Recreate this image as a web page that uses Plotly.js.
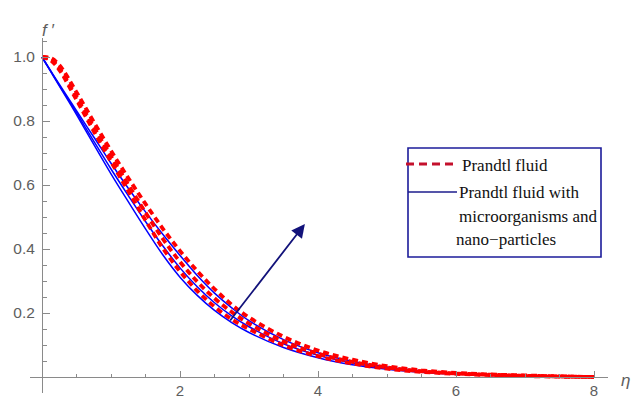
<!DOCTYPE html>
<html>
<head>
<meta charset="utf-8">
<script src="https://cdn.plot.ly/plotly-3.0.1.min.js"></script>
<style>
  html, body { margin: 0; padding: 0; background: #fff; }
  #chart { width: 636px; height: 400px; }
</style>
</head>
<body>
<div id="chart"></div>
<script>
// Similarity variable eta and velocity profiles f'(eta)
const eta = [0, 0.125, 0.25, 0.5, 0.75, 1, 1.25, 1.5, 1.75, 2, 2.25, 2.5, 2.75, 3, 3.5, 4, 4.5, 5, 5.5, 6, 6.5, 7, 7.5, 8];

// Prandtl fluid (dashed)
const prandtl1 = [1, 0.997, 0.975, 0.89, 0.797, 0.707, 0.622, 0.541, 0.464, 0.394, 0.331, 0.275, 0.226, 0.186, 0.126, 0.083, 0.054, 0.034, 0.021, 0.013, 0.008, 0.005, 0.002, 0];
const prandtl2 = [1, 0.993, 0.965, 0.875, 0.781, 0.69, 0.601, 0.514, 0.432, 0.36, 0.298, 0.246, 0.203, 0.167, 0.111, 0.073, 0.047, 0.03, 0.018, 0.011, 0.007, 0.004, 0.002, 0];
const prandtl3 = [1, 0.99, 0.96, 0.866, 0.768, 0.673, 0.581, 0.49, 0.403, 0.33, 0.269, 0.22, 0.18, 0.15, 0.099, 0.065, 0.042, 0.026, 0.016, 0.01, 0.006, 0.003, 0.001, 0];

// Prandtl fluid with microorganisms and nano-particles (solid)
const nano1 = [1, 0.957, 0.915, 0.832, 0.75, 0.668, 0.59, 0.516, 0.446, 0.38, 0.317, 0.262, 0.216, 0.176, 0.117, 0.076, 0.049, 0.031, 0.019, 0.011, 0.007, 0.004, 0.002, 0];
const nano2 = [1, 0.956, 0.912, 0.826, 0.737, 0.65, 0.567, 0.486, 0.41, 0.341, 0.282, 0.232, 0.191, 0.157, 0.104, 0.068, 0.044, 0.028, 0.017, 0.01, 0.006, 0.003, 0.001, 0];
const nano3 = [1, 0.955, 0.91, 0.82, 0.727, 0.635, 0.548, 0.463, 0.382, 0.312, 0.255, 0.208, 0.17, 0.139, 0.092, 0.06, 0.038, 0.024, 0.015, 0.009, 0.005, 0.003, 0.001, 0];

const xTicks = [2, 4, 6, 8];
const xTickText = ['2', '4', '6', '8'];
const yTicks = [0.2, 0.4, 0.6, 0.8, 1.0];
const yTickText = ['0.2', '0.4', '0.6', '0.8', '1.0'];

const legendLabels = ['Prandtl fluid', 'Prandtl fluid with', 'microorganisms and', 'nano\u2212particles'];

// plot-area geometry (pixels)
const W = 636, H = 400;
const M = { l: 30, r: 28, t: 38, b: 7 };
const plotW = W - M.l - M.r, plotH = H - M.t - M.b;
const xRange = [-12 / 69, -12 / 69 + plotW / 69];
const yRange = [-0.05, -0.05 + plotH / 320];
const px = v => (v - M.l) / plotW;
const py = v => (H - M.b - v) / plotH;

function minorVals(lo, hi, step, majors) {
  const out = [];
  for (let k = Math.round(lo / step); k * step <= hi + 1e-9; k++) {
    const v = +(k * step).toFixed(4);
    if (!majors.some(m => Math.abs(m - v) < 1e-6) && Math.abs(v) > 1e-6) out.push(v);
  }
  return out;
}

const solid = (y) => ({
  x: eta, y: y, type: 'scatter', mode: 'lines',
  line: { color: '#0000ff', width: 1.5, shape: 'spline', smoothing: 1 },
  hoverinfo: 'skip', showlegend: false
});
const dashed = (y) => ({
  x: eta, y: y, type: 'scatter', mode: 'lines',
  line: { color: '#ff0000', width: 3.8, dash: '6px,4px', shape: 'spline', smoothing: 1 },
  hoverinfo: 'skip', showlegend: false
});

const traces = [solid(nano3), solid(nano2), solid(nano1), dashed(prandtl3), dashed(prandtl2), dashed(prandtl1)];

const axisGray = '#8a8a8a';
const labelGray = '#5e5e5e';
const sans = 'Liberation Sans, Arial, sans-serif';
const serif = 'Liberation Serif, Times New Roman, serif';

const layout = {
  width: W, height: H,
  margin: M,
  paper_bgcolor: '#fff', plot_bgcolor: '#fff',
  showlegend: false,
  xaxis: {
    range: xRange, anchor: 'free', position: (0 - yRange[0]) / (yRange[1] - yRange[0]),
    showgrid: false, zeroline: false, showline: true, linecolor: axisGray, linewidth: 1,
    tickmode: 'array', tickvals: xTicks, ticktext: xTickText,
    ticks: 'inside', ticklen: 6, tickcolor: axisGray, tickwidth: 1,
    tickfont: { family: sans, size: 15, color: labelGray }, ticklabelstandoff: 0,
    minor: { tickmode: 'array', tickvals: minorVals(0, 8, 0.5, xTicks), ticks: 'inside', ticklen: 3.5, tickcolor: axisGray, tickwidth: 1 },
    automargin: false
  },
  yaxis: {
    range: yRange, anchor: 'free', position: (0 - xRange[0]) / (xRange[1] - xRange[0]),
    showgrid: false, zeroline: false, showline: true, linecolor: axisGray, linewidth: 1,
    tickmode: 'array', tickvals: yTicks, ticktext: yTickText,
    ticks: 'inside', ticklen: 7, tickcolor: axisGray, tickwidth: 1,
    tickfont: { family: sans, size: 15.5, color: labelGray }, ticklabelstandoff: 4,
    minor: { tickmode: 'array', tickvals: minorVals(-0.05, 1.05, 0.05, yTicks), ticks: 'inside', ticklen: 4, tickcolor: axisGray, tickwidth: 1 },
    automargin: false
  },
  shapes: [
    // legend frame
    { type: 'rect', xref: 'paper', yref: 'paper', x0: px(408), x1: px(601), y0: py(257), y1: py(148),
      line: { color: '#1c1c9a', width: 1.6 }, fillcolor: 'rgba(0,0,0,0)', layer: 'above' },
    // legend samples
    { type: 'line', xref: 'paper', yref: 'paper', x0: px(406), x1: px(457), y0: py(164), y1: py(164),
      line: { color: '#c4102c', width: 3, dash: '8px,5px' } },
    { type: 'line', xref: 'paper', yref: 'paper', x0: px(408), x1: px(457), y0: py(192), y1: py(192),
      line: { color: '#1c1c8c', width: 1.5 } }
  ],
  annotations: [
    // axis labels
    { xref: 'paper', yref: 'paper', x: px(40), y: py(19), text: '<i>f</i> \u2032', showarrow: false,
      font: { family: sans, size: 17, color: labelGray } },
    { xref: 'paper', yref: 'paper', x: px(632), y: py(392), text: '<i>\u03b7</i>', showarrow: false,
      font: { family: sans, size: 17, color: labelGray } },
    // trend arrow
    { x: 3.81, y: 0.478, ax: 2.71, ay: 0.172, axref: 'x', ayref: 'y', xref: 'x', yref: 'y',
      text: '', showarrow: true, arrowhead: 2, arrowsize: 1.5, arrowwidth: 1.8, arrowcolor: '#12127a' },
    // legend texts
    { xref: 'paper', yref: 'paper', x: px(460), y: py(165), xanchor: 'left', text: legendLabels[0], showarrow: false,
      font: { family: serif, size: 17, color: '#111' } },
    { xref: 'paper', yref: 'paper', x: px(457), y: py(192), xanchor: 'left', text: legendLabels[1], showarrow: false,
      font: { family: serif, size: 17, color: '#111' } },
    { xref: 'paper', yref: 'paper', x: px(457), y: py(216), xanchor: 'left', text: legendLabels[2], showarrow: false,
      font: { family: serif, size: 17, color: '#111' } },
    { xref: 'paper', yref: 'paper', x: px(454), y: py(239), xanchor: 'left', text: legendLabels[3], showarrow: false,
      font: { family: serif, size: 17, color: '#111' } }
  ]
};

Plotly.newPlot('chart', traces, layout, { staticPlot: true, displayModeBar: false });
</script>
</body>
</html>
